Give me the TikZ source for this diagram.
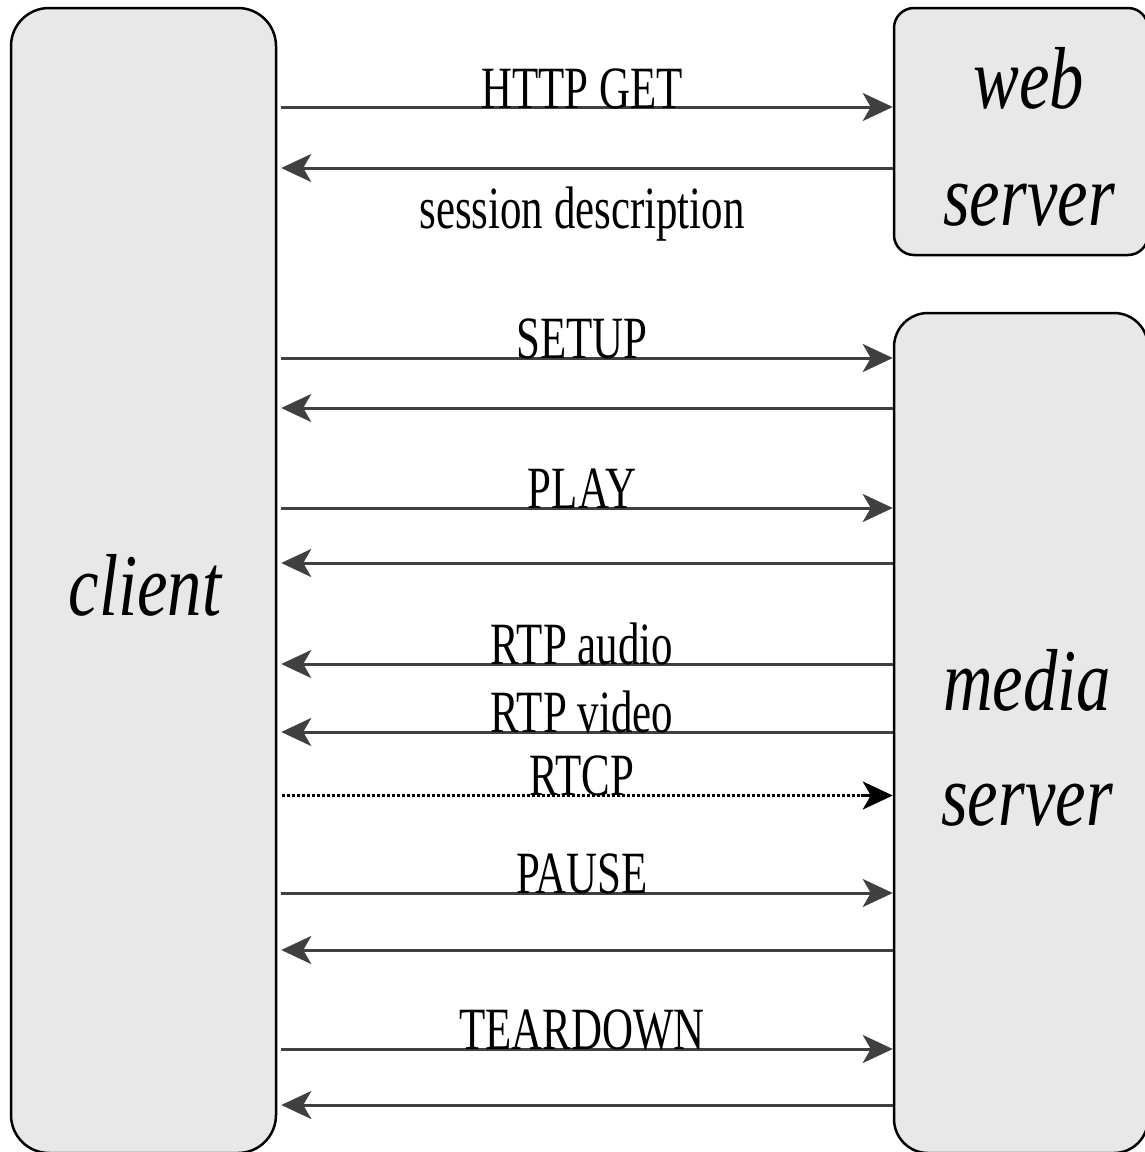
\documentclass[tikz,border=0pt]{standalone}
\usepackage{fontspec}
\setmainfont{Liberation Serif}[FakeStretch=0.78]
\newfontfamily\msgfont{Liberation Serif}[FakeStretch=0.715]
\usetikzlibrary{arrows.meta, decorations.markings}
\definecolor{boxfill}{HTML}{E8E8E8}
\definecolor{msgline}{HTML}{404040}
\tikzset{
  party/.style={draw=black, line width=2.5pt, fill=boxfill, rounded corners=#1,
    rectangle, inner sep=0pt},
  partytext/.style={anchor=base, font=\fontsize{88}{96}\selectfont\itshape},
  msg/.style={draw=msgline, line width=3pt,
    -{Stealth[length=30pt, width=28pt, inset=8pt]}},
  % dotted shaft built from small square dots, 3pt on / 2pt off
  dotshaft/.style={postaction=decorate, decoration={markings,
    mark=between positions 0 and 1 step 5pt with
      {\fill[black] (-1pt,-1.5pt) rectangle (2pt,1.5pt);}}},
  ctrlhead/.style={draw=black, line width=3pt,
    -{Stealth[length=30pt, width=28pt, inset=8pt]}},
  msglabel/.style={anchor=base, inner sep=0pt, font=\msgfont\fontsize{60}{66}\selectfont}
}
\begin{document}
\begin{tikzpicture}[x=1pt, y=-1pt]
\useasboundingbox (0,0) rectangle (1145,1152);

% participants
\node[party=38pt, minimum width=265pt, minimum height=1145pt] (client) at (143.5,580.5) {};
\node[party=20pt, minimum width=254pt, minimum height=247pt] (web) at (1021,131.5) {};
\node[party=34pt, minimum width=254pt, minimum height=840pt] (media) at (1021,733) {};

\node[partytext] (clientname) at (145,615) {client};
\node[partytext] (webname1) at (1029,108) {web};
\node[partytext] (webname2) at (1029,225) {server};
\node[partytext] (medianame1) at (1027,710) {media};
\node[partytext] (medianame2) at (1027,825) {server};

% HTTP exchange with the web server
\draw[msg, shorten <=4pt] (client.east |- 0,107) -- (web.west |- 0,107);
\node[msglabel] (lhttp) at (582,108) {HTTP GET};
\draw[msg, shorten >=4pt] (web.west |- 0,168) -- (client.east |- 0,168);
\node[msglabel] (lsdp) at (582,228) {session description};

% RTSP exchange with the media server
\draw[msg, shorten <=4pt] (client.east |- 0,358) -- (media.west |- 0,358);
\node[msglabel] (lsetup) at (582,358) {SETUP};
\draw[msg, shorten >=4pt] (media.west |- 0,408) -- (client.east |- 0,408);

\draw[msg, shorten <=4pt] (client.east |- 0,508) -- (media.west |- 0,508);
\node[msglabel] (lplay) at (582,508) {PLAY};
\draw[msg, shorten >=4pt] (media.west |- 0,563) -- (client.east |- 0,563);

% media streams
\draw[msg, shorten >=4pt] (media.west |- 0,664) -- (client.east |- 0,664);
\node[msglabel] (laudio) at (582,664) {RTP audio};
\draw[msg, shorten >=4pt] (media.west |- 0,732) -- (client.east |- 0,732);
\node[msglabel] (lvideo) at (582,732) {RTP video};
% RTCP reports: dotted shaft with a solid black head
\path[dotshaft] ([xshift=6pt]client.east |- 0,795.5) -- ([xshift=-24pt]media.west |- 0,795.5);
\draw[ctrlhead] ([xshift=-32pt]media.west |- 0,795.5) -- (media.west |- 0,795.5);
\node[msglabel] (lrtcp) at (582,795) {RTCP};

\draw[msg, shorten <=4pt] (client.east |- 0,893) -- (media.west |- 0,893);
\node[msglabel] (lpause) at (582,893) {PAUSE};
\draw[msg, shorten >=4pt] (media.west |- 0,950) -- (client.east |- 0,950);

\draw[msg, shorten <=4pt] (client.east |- 0,1049) -- (media.west |- 0,1049);
\node[msglabel] (lteardown) at (582,1049) {TEARDOWN};
\draw[msg, shorten >=4pt] (media.west |- 0,1105) -- (client.east |- 0,1105);
\end{tikzpicture}
\end{document}
